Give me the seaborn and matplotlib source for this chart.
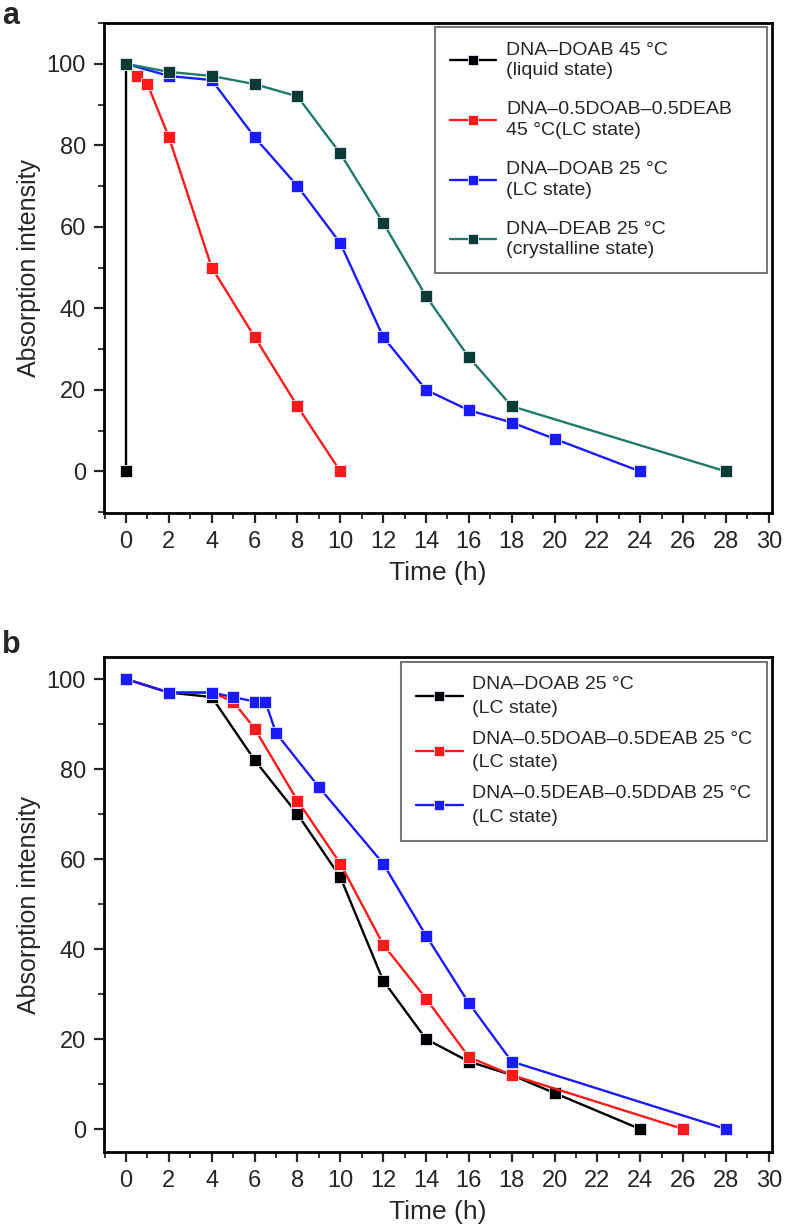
import numpy as np
import pandas as pd
import matplotlib
matplotlib.use("Agg")
import matplotlib.pyplot as plt
import seaborn as sns
from matplotlib.ticker import MultipleLocator

# ---- Panel a data ----
a_black_t = [0, 0]
a_black_y = [100, 0]
a_red_t = [0, 0.5, 1, 2, 4, 6, 8, 10]
a_red_y = [100, 97, 95, 82, 50, 33, 16, 0]
a_blue_t = [0, 2, 4, 6, 8, 10, 12, 14, 16, 18, 20, 24]
a_blue_y = [100, 97, 96, 82, 70, 56, 33, 20, 15, 12, 8, 0]
a_teal_t = [0, 2, 4, 6, 8, 10, 12, 14, 16, 18, 28]
a_teal_y = [100, 98, 97, 95, 92, 78, 61, 43, 28, 16, 0]
a_labels = ["DNA\u2013DOAB 45 \u00b0C\n(liquid state)",
            "DNA\u20130.5DOAB\u20130.5DEAB\n45 \u00b0C(LC state)",
            "DNA\u2013DOAB 25 \u00b0C\n(LC state)",
            "DNA\u2013DEAB 25 \u00b0C\n(crystalline state)"]

# ---- Panel b data ----
b_black_t = [0, 2, 4, 6, 8, 10, 12, 14, 16, 18, 20, 24]
b_black_y = [100, 97, 96, 82, 70, 56, 33, 20, 15, 12, 8, 0]
b_red_t = [0, 2, 4, 5, 6, 8, 10, 12, 14, 16, 18, 26]
b_red_y = [100, 97, 97, 95, 89, 73, 59, 41, 29, 16, 12, 0]
b_blue_t = [0, 2, 4, 5, 6, 6.5, 7, 9, 12, 14, 16, 18, 28]
b_blue_y = [100, 97, 97, 96, 95, 95, 88, 76, 59, 43, 28, 15, 0]
b_labels = ["DNA\u2013DOAB 25 \u00b0C\n(LC state)",
            "DNA\u20130.5DOAB\u20130.5DEAB 25 \u00b0C\n(LC state)",
            "DNA\u20130.5DEAB\u20130.5DDAB 25 \u00b0C\n(LC state)"]

x_ticks = list(range(0, 31, 2))

sns.set_theme(style="ticks")
plt.rcParams['font.family'] = ['Liberation Sans', 'DejaVu Sans']

W, H = 788, 1232
fig = plt.figure(figsize=(W / 100, H / 100), dpi=100)
L, R = 104, 772
ax_a = fig.add_axes([L / W, 1 - 513 / H, (R - L) / W, (513 - 23) / H])
ax_b = fig.add_axes([L / W, 1 - 1152 / H, (R - L) / W, (1152 - 657) / H])


def draw(ax, t, y, line_c, mark_c, label):
    df = pd.DataFrame({"t": t, "y": y})
    sns.lineplot(data=df, x="t", y="y", ax=ax, estimator=None, sort=False,
                 color=line_c, marker="s", markersize=9,
                 markerfacecolor=mark_c, markeredgecolor="#e8e8ff",
                 markeredgewidth=0.6, linewidth=1.7, label=label)


series_a = [
    (a_black_t, a_black_y, "black", "black"),
    (a_red_t, a_red_y, "#ff1a1a", "#ff1a1a"),
    (a_blue_t, a_blue_y, "#1a1aff", "#1a1aff"),
    (a_teal_t, a_teal_y, "#1f7a6c", "#0b3b34"),
]
for (t, y, lc, mc), lab in zip(series_a, a_labels):
    draw(ax_a, t, y, lc, mc, lab)

series_b = [
    (b_black_t, b_black_y, "black", "black"),
    (b_red_t, b_red_y, "#ff1a1a", "#ff1a1a"),
    (b_blue_t, b_blue_y, "#1a1aff", "#1a1aff"),
]
for (t, y, lc, mc), lab in zip(series_b, b_labels):
    draw(ax_b, t, y, lc, mc, lab)

for ax, ylim in ((ax_a, (-10.2, 110)), (ax_b, (-5.1, 104.9))):
    ax.set_xlim(-1.03, 30.15)
    ax.set_ylim(*ylim)
    ax.set_xticks(x_ticks)
    ax.xaxis.set_minor_locator(MultipleLocator(1))
    ax.yaxis.set_major_locator(MultipleLocator(20))
    ax.yaxis.set_minor_locator(MultipleLocator(10))
    ax.tick_params(axis="both", which="major", direction="out", length=7,
                   width=1.6, labelsize=17, pad=6)
    ax.tick_params(axis="both", which="minor", direction="out", length=4.3, width=1.3)
    for s in ax.spines.values():
        s.set_linewidth(2.0)
        s.set_color("black")
    ax.set_xlabel("Time (h)", fontsize=19, labelpad=6)
    ax.set_ylabel("Absorption intensity", fontsize=18, labelpad=4)

common = dict(fontsize=14, frameon=True, fancybox=False, handlelength=2.4,
              handletextpad=0.5, borderpad=0.75, markerscale=0.8,
              edgecolor="#555555")

# panel a legend: spans a fixed width box in the upper right
leg_a = ax_a.legend(loc="upper left", bbox_to_anchor=(0.4955, 0.0, 0.497, 0.992),
                    mode="expand", borderaxespad=0.0, labelspacing=1.12, **common)
leg_b = ax_b.legend(loc="upper right", borderaxespad=0.25, labelspacing=0.72, **common)
for leg, ls in ((leg_a, 1.3), (leg_b, 1.5)):
    leg.get_frame().set_linewidth(1.5)
    for txt in leg.get_texts():
        txt.set_linespacing(ls)

fig.text(0.003, 1 - 16 / H, "a", fontsize=22, fontweight="bold", va="center")
fig.text(0.003, 1 - 645 / H, "b", fontsize=22, fontweight="bold", va="center")

fig.savefig("out.png", dpi=100)
